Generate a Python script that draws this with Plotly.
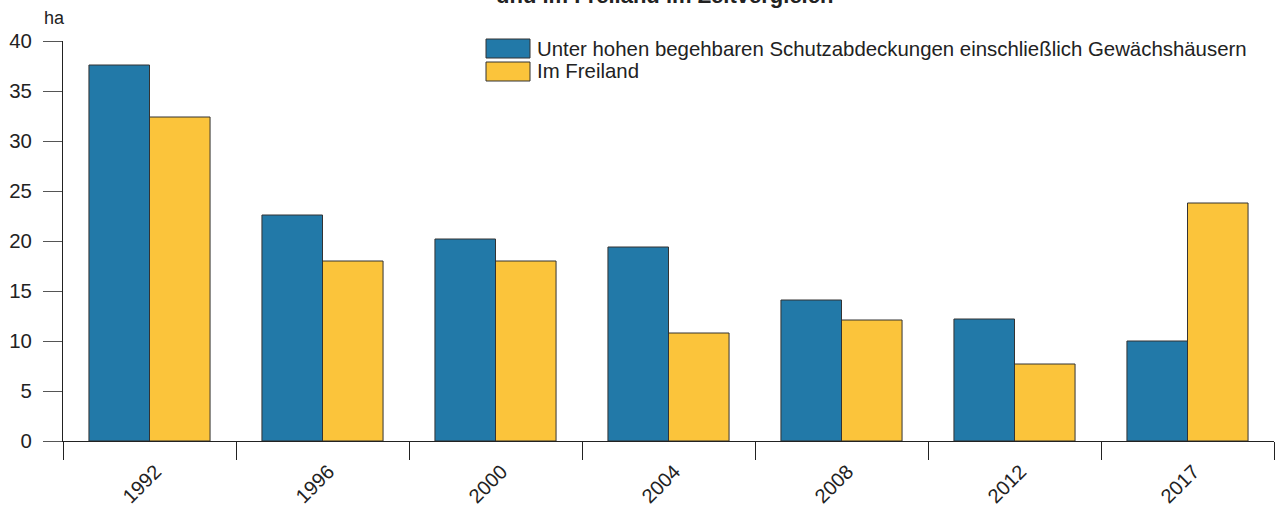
import plotly.graph_objects as go

years = ["1992", "1996", "2000", "2004", "2008", "2012", "2017"]
unter_schutz = [37.6, 22.6, 20.2, 19.4, 14.1, 12.2, 10.0]
freiland = [32.4, 18.0, 18.0, 10.8, 12.1, 7.7, 23.8]
series_names = ["Unter hohen begehbaren Schutzabdeckungen einschließlich Gewächshäusern", "Im Freiland"]
colors = ["#2279A8", "#FBC43B"]
y_ticks = [0, 5, 10, 15, 20, 25, 30, 35, 40]

FONT = "Liberation Sans, Arial, sans-serif"

fig = go.Figure()
for name, vals, col in zip(series_names, [unter_schutz, freiland], colors):
    fig.add_trace(go.Bar(
        x=years, y=vals, name=name,
        marker=dict(color=col, line=dict(color="#333333", width=1)),
        showlegend=False,
    ))

fig.update_layout(
    width=1277, height=507,
    margin=dict(l=63, r=3, t=41, b=66),
    paper_bgcolor="white", plot_bgcolor="white",
    barmode="group", bargap=0.30, bargroupgap=0,
    font=dict(family=FONT, size=20, color="#222222"),
    xaxis=dict(
        type="category", showgrid=False, showline=True, linecolor="#222222", linewidth=1,
        ticks="outside", tickson="boundaries", ticklen=18, tickcolor="#222222",
        tickangle=-45, tickfont=dict(size=20), automargin=False,
        ticklabelstandoff=10, ticklabelshift=6,
    ),
    yaxis=dict(
        range=[0, 40], tickvals=y_ticks, showgrid=False, zeroline=False,
        showline=True, linecolor="#222222", linewidth=1,
        ticks="outside", ticklen=19, tickcolor="#555555", tickfont=dict(size=20.4),
        automargin=False, ticklabelstandoff=7,
    ),
)

# y-axis unit
fig.add_annotation(text="ha", xref="paper", yref="paper", x=-0.017, y=1.027,
                   xanchor="left", yanchor="bottom", showarrow=False,
                   font=dict(size=18, family=FONT, color="#222222"))

# title line, partly cut off at the top edge as in the reference
fig.add_annotation(text="<b>und im Freiland im Zeitvergleich</b>", xref="paper", yref="paper",
                   x=0.497, y=1.0785, xanchor="center", yanchor="bottom", showarrow=False,
                   font=dict(size=22, family=FONT, color="#222222"))

# legend (manual)
leg_x0 = (486 - 63) / 1211
leg_x1 = (530 - 63) / 1211
rows = [(39, 58), (62, 81)]
for (top, bot), name, col in zip(rows, series_names, colors):
    y0 = (441 - bot) / 400
    y1 = (441 - top) / 400
    fig.add_shape(type="rect", xref="paper", yref="paper", x0=leg_x0, x1=leg_x1, y0=y0, y1=y1,
                  fillcolor=col, line=dict(color="#333333", width=1))
    fig.add_annotation(text=name, xref="paper", yref="paper", x=(535 - 63) / 1211, y=(y0 + y1) / 2,
                       xanchor="left", yanchor="middle", showarrow=False,
                       font=dict(size=20.4, family=FONT, color="#222222"))

fig.write_html("out.html", config={"displayModeBar": False},
               post_script="document.body.style.margin='0';")
